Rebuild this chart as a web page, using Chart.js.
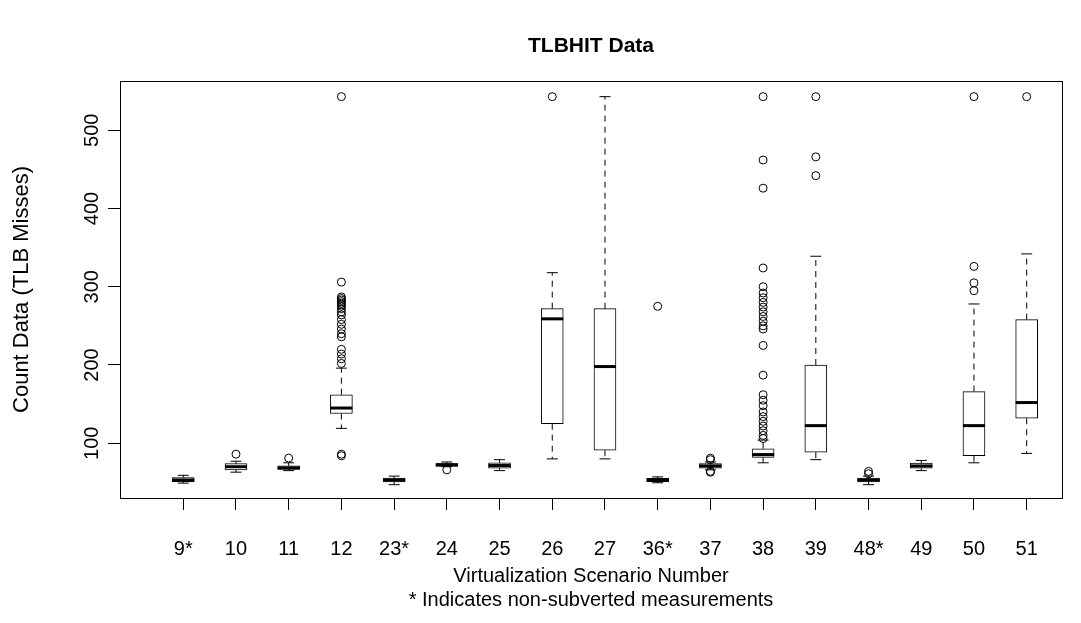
<!DOCTYPE html>
<html><head><meta charset="utf-8">
<script src="https://cdn.jsdelivr.net/npm/chart.js@4"></script>
<style>html,body{margin:0;padding:0;background:#fff}</style>
</head><body>
<canvas id="c" width="1081" height="623"></canvas>
<script>
const categories = ['9*','10','11','12','23*','24','25','26','27','36*','37','38','39','48*','49','50','51'];
const whiskerLow  = [49, 63, 65, 119, 47, 70, 65, 80, 80, 49.5, 66, 75, 79, 47, 65, 75, 87];
const q1          = [51, 66, 66.5, 138, 50.5, 70.5, 68, 125, 91, 51, 68, 82, 88.5, 50.5, 68, 84, 132];
const medians     = [53, 70, 68.5, 145, 53, 72.5, 71.5, 259, 198, 53, 71, 85.5, 122.5, 53, 71, 122.5, 152];
const q3          = [56, 74, 71, 162, 55.5, 74, 75, 272, 272, 55, 74, 93, 200, 55.5, 74.5, 166, 258];
const whiskerHigh = [59, 77, 75, 196, 58, 76, 79, 318, 543, 57, 76, 104, 339, 58, 78, 278, 342];
const outliers = [
  [],
  [86],
  [81],
  [543, 306, 287, 285, 283, 281, 279, 277, 275, 272, 268, 264, 258, 252, 246, 240, 236, 220, 214, 208, 202, 86, 84],
  [],
  [66],
  [],
  [543],
  [],
  [275],
  [81, 79, 64, 63],
  [543, 462, 426, 324, 300, 292, 286, 280, 274, 268, 262, 256, 250, 246, 225, 187, 162, 155, 148, 140, 134, 128, 122, 116, 110, 106],
  [543, 466, 442],
  [64, 61],
  [],
  [543, 326, 305, 295],
  [543]
];
const yTicks = [100, 200, 300, 400, 500];
const chartTitle = 'TLBHIT Data';
const xTitle = ['Virtualization Scenario Number', '* Indicates non-subverted measurements'];
const yTitle = 'Count Data (TLB Misses)';

const whiskerData = [];
categories.forEach((c, i) => {
  whiskerData.push({x: i, y: q3[i]}, {x: i, y: whiskerHigh[i]}, {x: i, y: null});
  whiskerData.push({x: i, y: q1[i]}, {x: i, y: whiskerLow[i]}, {x: i, y: null});
});
const boxData = categories.map((c, i) => ({x: i, y: [q1[i], q3[i]]}));
const medianData = categories.map((c, i) => ({x: i, y: medians[i]}));
const capData = [];
categories.forEach((c, i) => { capData.push({x: i, y: whiskerHigh[i]}, {x: i, y: whiskerLow[i]}); });
const outlierData = [];
outliers.forEach((arr, i) => arr.forEach(v => outlierData.push({x: i, y: v})));

const framePlugin = {
  id: 'frame',
  afterDraw(chart) {
    const {ctx, chartArea: a} = chart;
    ctx.save();
    ctx.strokeStyle = '#000';
    ctx.lineWidth = 1;
    ctx.strokeRect(Math.round(a.left) + 0.5, Math.round(a.top) + 0.5, Math.round(a.right - a.left), Math.round(a.bottom - a.top));
    ctx.restore();
  }
};

const FONT = 'Liberation Sans, Arial, sans-serif';
const XMIN = -1.2, XMAX = 16.67;

new Chart(document.getElementById('c'), {
  type: 'bar',
  data: {
    datasets: [
      { type: 'line', data: whiskerData, borderColor: '#000', borderWidth: 1, borderDash: [6, 5],
        pointRadius: 0, spanGaps: false, fill: false, order: 5 },
      { type: 'bar', data: boxData, backgroundColor: '#fff', borderColor: '#000', borderWidth: 1,
        borderSkipped: false, barThickness: 22, order: 4 },
      { type: 'scatter', data: medianData, pointStyle: 'line', pointRadius: 11, borderWidth: 3,
        borderColor: '#000', order: 3 },
      { type: 'scatter', data: capData, pointStyle: 'line', pointRadius: 5.5, borderWidth: 1,
        borderColor: '#000', order: 2 },
      { type: 'scatter', data: outlierData, pointStyle: 'circle', pointRadius: 4, borderWidth: 1,
        borderColor: '#000', backgroundColor: 'rgba(0,0,0,0)', order: 1 }
    ]
  },
  options: {
    responsive: false,
    animation: false,
    devicePixelRatio: 1,
    layout: { padding: { left: 0, right: 19, top: 0, bottom: 0 } },
    plugins: {
      legend: { display: false },
      tooltip: { enabled: false },
      title: { display: false }
    },
    scales: {
      x: {
        type: 'linear', min: XMIN, max: XMAX, offset: false,
        afterBuildTicks: (axis) => { axis.ticks = categories.map((c, i) => ({value: i})); },
        afterFit: (axis) => { axis.height = 125; },
        ticks: {
          autoSkip: false, maxRotation: 0, minRotation: 0, color: '#000', padding: 27,
          font: { family: FONT, size: 20 },
          callback: (v) => categories[Math.round(v)]
        },
        grid: { display: true, drawOnChartArea: false, drawTicks: true, tickLength: 12, color: '#000', offset: false },
        border: { display: true, color: '#000' },
        title: {
          display: true, text: xTitle,
          color: '#000', font: { family: FONT, size: 20, lineHeight: 1.2 }, padding: { top: 0, bottom: 11 }
        }
      },
      xTop: {
        type: 'linear', position: 'top', min: XMIN, max: XMAX, offset: false,
        afterFit: (axis) => { axis.height = 81; },
        ticks: { display: false },
        grid: { display: false },
        border: { display: false },
        title: {
          display: true, text: chartTitle, color: '#000',
          font: { family: FONT, size: 21, weight: 'bold', lineHeight: 1.2 }, padding: { top: 34, bottom: 0 }
        }
      },
      y: {
        type: 'linear', min: 30, max: 563,
        afterBuildTicks: (axis) => { axis.ticks = yTicks.map(v => ({value: v})); },
        afterFit: (axis) => { axis.width = 120; },
        ticks: {
          color: '#000', minRotation: 90, maxRotation: 90, crossAlign: 'center', padding: -1,
          font: { family: FONT, size: 20 }
        },
        grid: { display: true, drawOnChartArea: false, drawTicks: true, tickLength: 12, color: '#000' },
        border: { display: true, color: '#000' },
        title: {
          display: true, text: yTitle, color: '#000',
          font: { family: FONT, size: 22, lineHeight: 1.2 }, padding: { top: 9, bottom: 0 }
        }
      }
    }
  },
  plugins: [framePlugin]
});
</script>
</body></html>
